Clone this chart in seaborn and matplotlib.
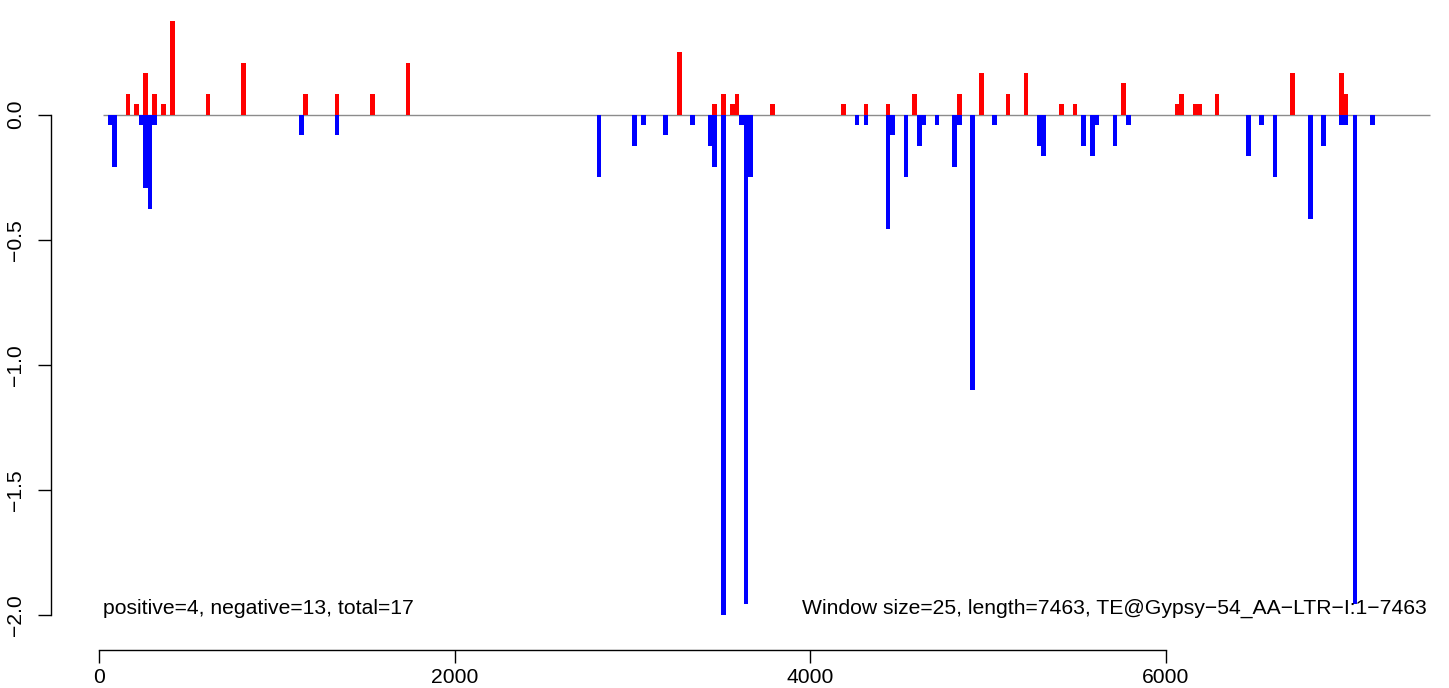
import numpy as np
import pandas as pd
import seaborn as sns
import matplotlib
matplotlib.use("Agg")
import matplotlib.pyplot as plt

# window start positions (window size 25) and scores
pos_start = [150, 200, 250, 300, 350, 400, 600, 800, 1150, 1325, 1525, 1725,
             3250, 3450, 3500, 3550, 3575, 3775, 4175, 4300, 4425, 4575, 4825,
             4950, 5100, 5200, 5400, 5475, 5750, 6050, 6075, 6150, 6175, 6275,
             6700, 6975, 7000]
pos_score = [0.083, 0.042, 0.167, 0.083, 0.042, 0.375, 0.083, 0.208, 0.083, 0.083, 0.083, 0.208,
             0.25, 0.042, 0.083, 0.042, 0.083, 0.042, 0.042, 0.042, 0.042, 0.083, 0.083,
             0.167, 0.083, 0.167, 0.042, 0.042, 0.125, 0.042, 0.083, 0.042, 0.042, 0.083,
             0.167, 0.167, 0.083]

neg_start = [50, 75, 225, 250, 275, 300, 1125, 1325, 2800, 3000, 3050, 3175, 3325,
             3425, 3450, 3500, 3600, 3625, 3650, 4250, 4300, 4425, 4450, 4525, 4600,
             4625, 4700, 4800, 4825, 4900, 5025, 5275, 5300, 5525, 5575, 5600, 5700,
             5775, 6450, 6525, 6600, 6800, 6875, 6975, 7000, 7050, 7150]
neg_score = [-0.042, -0.208, -0.042, -0.292, -0.375, -0.042, -0.083, -0.083, -0.25, -0.125, -0.042, -0.083, -0.042,
             -0.125, -0.208, -2.0, -0.042, -1.958, -0.25, -0.042, -0.042, -0.458, -0.083, -0.25, -0.125,
             -0.042, -0.042, -0.208, -0.042, -1.1, -0.042, -0.125, -0.167, -0.125, -0.167, -0.042, -0.125,
             -0.042, -0.167, -0.042, -0.25, -0.417, -0.125, -0.042, -0.042, -1.958, -0.042]

win = 25
seq_len = 7463
xticks = [0, 2000, 4000, 6000]
yticks = [0.0, -0.5, -1.0, -1.5, -2.0]
ytick_labels = ["0.0", "\u22120.5", "\u22121.0", "\u22121.5", "\u22122.0"]
left_note = "positive=4, negative=13, total=17"
right_note = "Window size=25, length=7463, TE@Gypsy\u221254_AA\u2212LTR\u2212I:1\u22127463"

df_pos = pd.DataFrame({"x": np.array(pos_start) + win / 2, "y": pos_score})
df_neg = pd.DataFrame({"x": np.array(neg_start) + win / 2, "y": neg_score})

sns.set_style("white")
plt.rcParams['font.family'] = ['Liberation Sans', 'DejaVu Sans']

fig = plt.figure(figsize=(14.49, 6.88), dpi=100)
ax = fig.add_axes([50.7 / 1449, 38 / 688, (1440 - 50.7) / 1449, 640 / 688])

ax.hlines(0, win, seq_len + 20, color="#8c8c8c", linewidth=1.0, zorder=1)
sns.barplot(data=df_pos, x="x", y="y", native_scale=True, orient="x", width=1.05,
            color="#ff0000", saturation=1, errorbar=None, linewidth=0, ax=ax, zorder=2)
sns.barplot(data=df_neg, x="x", y="y", native_scale=True, orient="x", width=1.05,
            color="#0000ff", saturation=1, errorbar=None, linewidth=0, ax=ax, zorder=2)

ax.set_xlim((50.7 - 99) / 0.17783, (1440 - 99) / 0.17783)
ax.set_ylim(-(650 - 114.7) / 250.15, (114.7 - 10) / 250.15)
ax.set_xlabel("")
ax.set_ylabel("")

for s in ["top", "right"]:
    ax.spines[s].set_visible(False)
ax.spines["left"].set_bounds(-2.0, 0.0)
ax.spines["bottom"].set_bounds(0, 6000)
for s in ["left", "bottom"]:
    ax.spines[s].set_linewidth(1.0)
    ax.spines[s].set_color("black")

ax.set_xticks(xticks)
ax.set_xticklabels([str(t) for t in xticks])
ax.set_yticks(yticks)
ax.set_yticklabels(ytick_labels, rotation=90, va="center")
ax.tick_params(axis="both", direction="out", length=9.4, width=1.0, color="black",
               labelsize=15.2, labelcolor="black")
ax.tick_params(axis="x", pad=3.5, bottom=True)
ax.tick_params(axis="y", pad=9, left=True)

ax.text(25, -1.975, left_note, ha="left", va="center", fontsize=15.2, color="black")
ax.text(7467, -1.975, right_note, ha="right", va="center", fontsize=15.2, color="black")

fig.savefig("out.png", dpi=100)
